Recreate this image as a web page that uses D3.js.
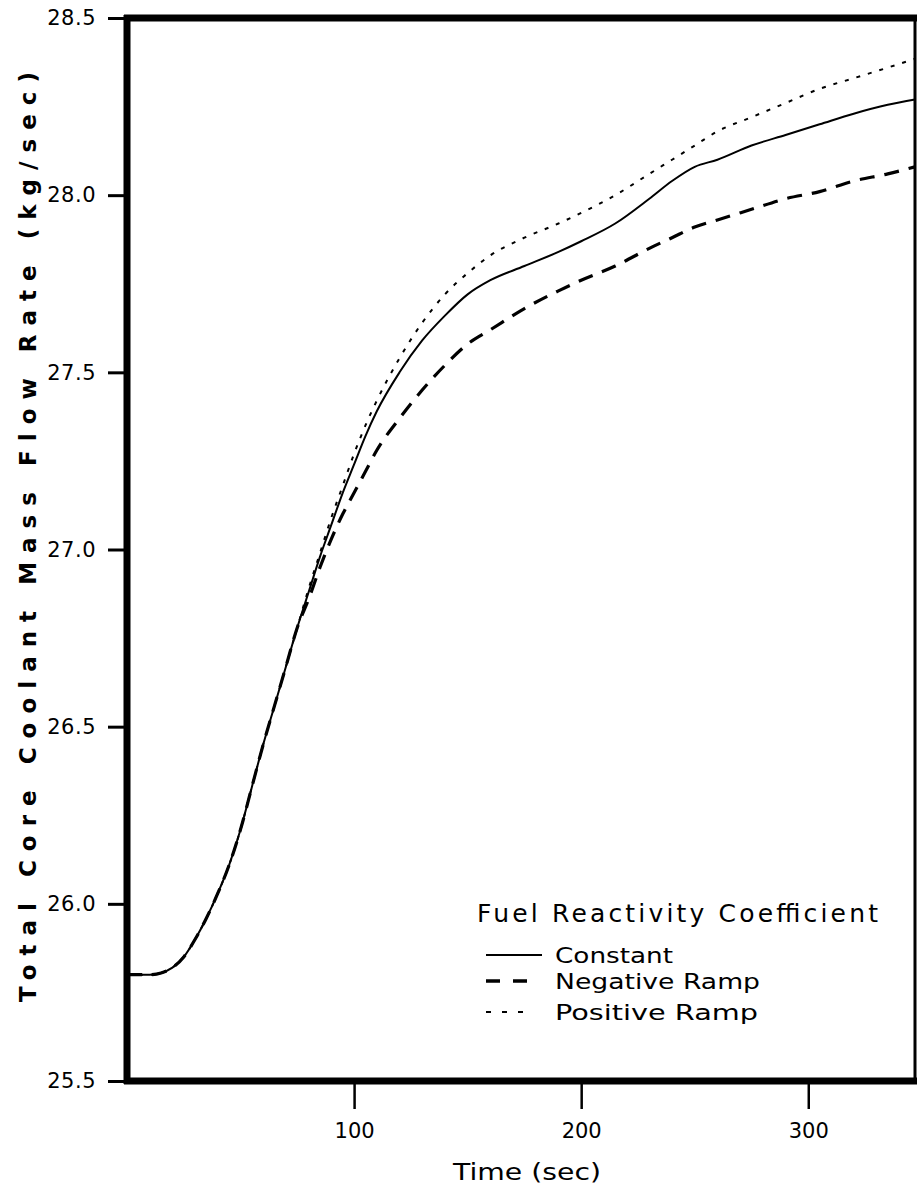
<!DOCTYPE html>
<html><head><meta charset="utf-8">
<script src="https://cdn.jsdelivr.net/npm/d3@7"></script>
<style>body{margin:0;background:#fff}svg{display:block}text{font-family:"DejaVu Sans",sans-serif;fill:#000}</style>
</head><body>
<script>
const time = [0,10,15,20,25,30,35,40,45,50,55,60,65,70,75,80,85,90,95,100,105,110,120,130,140,150,160,175,190,200,215,230,240,250,260,275,290,305,320,335,347];
const constant = [25.80,25.80,25.805,25.82,25.85,25.90,25.96,26.03,26.11,26.21,26.33,26.45,26.56,26.67,26.78,26.88,26.98,27.07,27.16,27.24,27.32,27.39,27.50,27.59,27.66,27.72,27.76,27.80,27.84,27.87,27.92,27.99,28.04,28.08,28.10,28.14,28.17,28.20,28.23,28.255,28.27];
const negativeRamp = [25.80,25.80,25.805,25.82,25.85,25.90,25.96,26.03,26.11,26.21,26.33,26.45,26.56,26.67,26.78,26.86,26.95,27.03,27.10,27.16,27.22,27.28,27.37,27.45,27.52,27.58,27.62,27.68,27.73,27.76,27.80,27.85,27.88,27.91,27.93,27.96,27.99,28.01,28.04,28.06,28.08];
const positiveRamp = [25.80,25.80,25.805,25.82,25.85,25.90,25.96,26.03,26.11,26.21,26.33,26.45,26.56,26.67,26.78,26.89,26.99,27.09,27.18,27.27,27.35,27.42,27.54,27.64,27.72,27.78,27.83,27.88,27.92,27.95,28.00,28.06,28.10,28.14,28.18,28.22,28.26,28.30,28.33,28.36,28.385];
const yTicks = [25.5,26.0,26.5,27.0,27.5,28.0,28.5];
const yTickLabels = ["25.5","26.0","26.5","27.0","27.5","28.0","28.5"];
const xTicks = [100,200,300];
const xTickLabels = ["100","200","300"];
const seriesNames = ["Constant","Negative Ramp","Positive Ramp"];
const legendTitle = "Fuel Reactivity Coefficient";
const xTitle = "Time (sec)";
const yTitle = "Total Core Coolant Mass Flow Rate (kg/sec)";

const W=917,H=1203;
const L=127,R=915,T=18,B=1081;
const svg=d3.select("body").append("svg").attr("width",W).attr("height",H);
const x=d3.scaleLinear().domain([0,347]).range([L,R]);
const y=d3.scaleLinear().domain([25.5,28.5]).range([B,T]);

const styles=[
 {w:2,dash:null},
 {w:3.2,dash:"15,10"},
 {w:2,dash:"4,8"}
];
const seriesData=[constant,negativeRamp,positiveRamp];
const line=d3.line().x(d=>x(d[0])).y(d=>y(d[1])).curve(d3.curveMonotoneX);
seriesData.forEach((vals,i)=>{
  svg.append("path").datum(time.map((t,j)=>[t,vals[j]]))
   .attr("d",line).attr("fill","none").attr("stroke","#000")
   .attr("stroke-width",styles[i].w).attr("stroke-dasharray",styles[i].dash);
});

// axes
const yAxis=d3.axisLeft(y).tickValues(yTicks).tickFormat((d,i)=>yTickLabels[i]).tickSize(19).tickPadding(12);
const gy=svg.append("g").attr("transform",`translate(${L},0)`).call(yAxis);
gy.attr("font-size",null).attr("font-family",null);
gy.select(".domain").remove();
gy.selectAll(".tick line").attr("stroke-width",3);
gy.selectAll(".tick text").attr("font-size",21).attr("letter-spacing",0.5).attr("font-family","DejaVu Sans");

const xAxis=d3.axisBottom(x).tickValues(xTicks).tickFormat((d,i)=>xTickLabels[i]).tickSize(28).tickPadding(14);
const gx=svg.append("g").attr("transform",`translate(0,${B})`).call(xAxis);
gx.attr("font-size",null).attr("font-family",null);
gx.select(".domain").remove();
gx.selectAll(".tick line").attr("stroke-width",2.5);
gx.selectAll(".tick text").attr("font-size",21).attr("font-family","DejaVu Sans");

// frame
svg.append("line").attr("x1",L).attr("x2",L).attr("y1",T-3).attr("y2",B+3).attr("stroke","#000").attr("stroke-width",7);
svg.append("line").attr("x1",L-3).attr("x2",W).attr("y1",T).attr("y2",T).attr("stroke","#000").attr("stroke-width",7);
svg.append("line").attr("x1",L-3).attr("x2",W).attr("y1",B).attr("y2",B).attr("stroke","#000").attr("stroke-width",7);
svg.append("line").attr("x1",R).attr("x2",R).attr("y1",T).attr("y2",B).attr("stroke","#000").attr("stroke-width",3);

// titles
svg.append("text").attr("x",527).attr("y",1180).attr("text-anchor","middle")
  .style("font-size","23px").attr("textLength",148).attr("lengthAdjust","spacingAndGlyphs").text(xTitle);
svg.append("text").attr("transform","translate(36,537) rotate(-90)").attr("text-anchor","middle")
  .style("font-size","23px").style("font-weight","bold").attr("textLength",930).attr("lengthAdjust","spacing").text(yTitle);

// legend
const lg=svg.append("g");
lg.append("text").attr("x",477).attr("y",922).style("font-size","25px").attr("textLength",401).attr("lengthAdjust","spacing").text(legendTitle);
const legY=[955,981,1012];
const legLen=[118,205,203];
const legDash=[null,"14,13","5,11"];
seriesNames.forEach((n,i)=>{
  lg.append("line").attr("x1",486).attr("x2",i===0?542:531).attr("y1",legY[i]).attr("y2",legY[i])
    .attr("stroke","#000").attr("stroke-width",i===1?3.5:2).attr("stroke-dasharray",legDash[i]);
  lg.append("text").attr("x",555).attr("y",legY[i]+8).style("font-size","22px")
    .attr("textLength",legLen[i]).attr("lengthAdjust","spacingAndGlyphs").text(n);
});
</script>
</body></html>
